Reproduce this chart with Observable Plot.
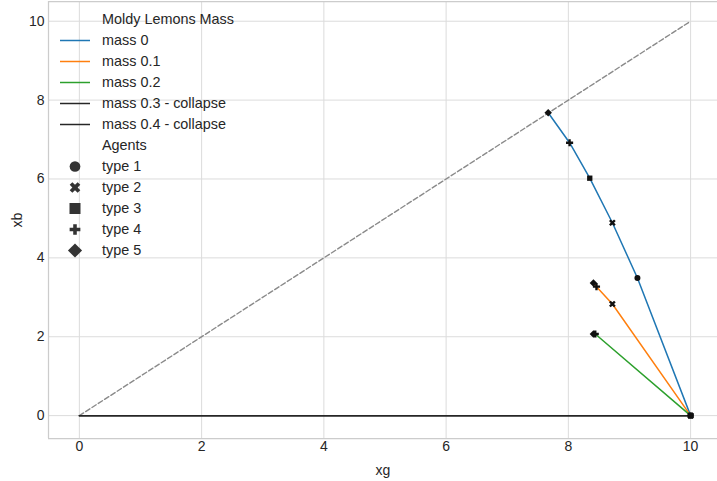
<!DOCTYPE html>
<html><head><meta charset="utf-8">
<script src="https://cdn.jsdelivr.net/npm/d3@7"></script>
<script src="https://cdn.jsdelivr.net/npm/@observablehq/plot@0.6"></script>
<style>
body{margin:0;background:#fff;}
#wrap{position:relative;width:717px;height:481px;font-family:"Liberation Sans",Arial,sans-serif;color:#262626;overflow:hidden;}
#legend{position:absolute;left:0;top:0;font-size:14.4px;}
.row{position:absolute;left:0;width:300px;height:21px;line-height:21px;white-space:nowrap;}
.row span{position:absolute;left:102px;top:0;}
.row svg{position:absolute;left:55px;top:0;}
</style></head><body><div id="wrap"><div id="chart"></div><div id="legend"></div></div>
<script>
// ---- data ----
const agentTypes = ["type 1", "type 2", "type 3", "type 4", "type 5"];
const massLabels = ["mass 0", "mass 0.1", "mass 0.2", "mass 0.3 - collapse", "mass 0.4 - collapse"];
const massColors = ["#1f77b4", "#ff7f0e", "#2ca02c", "#262626", "#262626"];
const mass0_xg = [9.13, 8.72, 8.35, 8.02, 7.67];
const mass0_xb = [3.49, 4.89, 6.02, 6.92, 7.68];
const mass01_xg = [10, 8.72, 10, 8.46, 8.41];
const mass01_xb = [0, 2.83, 0, 3.27, 3.36];
const mass02_xg = [10, 10, 10, 8.44, 8.41];
const mass02_xb = [0, 0, 0, 2.07, 2.07];
const endPoint_xg = 10;
const endPoint_xb = 0;
const collapse_xg = [0, 10];
const collapse_xb = [0, 0];
const diag_xg = [0, 10];
const diag_xb = [0, 10];
const ticks = [0, 2, 4, 6, 8, 10];
const xLimits = [-0.505, 10.44];
const yLimits = [-0.58, 10.5];
const legendTitle1 = "Moldy Lemons Mass";
const legendTitle2 = "Agents";

// ---- symbols ----
const xSym = {draw(ctx, size) {
  const r = Math.sqrt(size / 5) / 2, c = Math.SQRT1_2;
  const pts = [[-3*r,-r],[-r,-r],[-r,-3*r],[r,-3*r],[r,-r],[3*r,-r],[3*r,r],[r,r],[r,3*r],[-r,3*r],[-r,r],[-3*r,r]];
  pts.forEach(([x, y], i) => { const X = (x - y) * c, Y = (x + y) * c; i ? ctx.lineTo(X, Y) : ctx.moveTo(X, Y); });
  ctx.closePath();
}};
const diamondSym = {draw(ctx, size) {
  const h = Math.sqrt(size / 2);
  ctx.moveTo(0, -h); ctx.lineTo(h, 0); ctx.lineTo(0, h); ctx.lineTo(-h, 0); ctx.closePath();
}};
const typeSymbols = [d3.symbolCircle, xSym, d3.symbolSquare, d3.symbolCross, diamondSym];

// ---- build tables ----
const seriesXg = [mass0_xg, mass01_xg, mass02_xg];
const seriesXb = [mass0_xb, mass01_xb, mass02_xb];
const points = [];
seriesXg.forEach((xs, s) => xs.forEach((x, i) => points.push({mass: massLabels[s], type: agentTypes[i], xg: x, xb: seriesXb[s][i]})));
const lineData = seriesXg.map((xs, s) => {
  const arr = xs.map((x, i) => ({xg: x, xb: seriesXb[s][i]}));
  arr.push({xg: endPoint_xg, xb: endPoint_xb});
  return arr.sort((a, b) => a.xg - b.xg);
});
const collapseData = collapse_xg.map((x, i) => ({xg: x, xb: collapse_xb[i]}));
const diagData = diag_xg.map((x, i) => ({xg: x, xb: diag_xb[i]}));

const drawOrder = [0, 2, 3, 4, 1];
const chart = Plot.plot({
  width: 717, height: 481,
  marginLeft: 48, marginRight: 0, marginTop: 1, marginBottom: 43,
  style: {fontFamily: "Liberation Sans, Arial, sans-serif", fontSize: "14px", color: "#262626", background: "white"},
  x: {domain: xLimits},
  y: {domain: yLimits},
  marks: [
    Plot.gridX(ticks, {stroke: "#dcdcdc", strokeOpacity: 1}),
    Plot.gridY(ticks, {stroke: "#dcdcdc", strokeOpacity: 1}),
    Plot.ruleX([xLimits[0]], {stroke: "#cccccc", strokeWidth: 1.25}),
    Plot.ruleY(yLimits, {stroke: "#cccccc", strokeWidth: 1.25}),
    Plot.axisX(ticks, {tickSize: 0, tickPadding: 3, label: "xg", labelAnchor: "center", labelArrow: "none", labelOffset: 36}),
    Plot.axisY(ticks, {tickSize: 0, tickPadding: 4, label: "xb", labelAnchor: "center", labelArrow: "none", labelOffset: 36}),
    Plot.line(diagData, {x: "xg", y: "xb", stroke: "#8a8a8a", strokeWidth: 1.4, strokeDasharray: "5,2.5"}),
    ...lineData.map((d, s) => Plot.line(d, {x: "xg", y: "xb", stroke: massColors[s], strokeWidth: 1.5})),
    Plot.line(collapseData, {x: "xg", y: "xb", stroke: massColors[3], strokeWidth: 1.5}),
    Plot.line(collapseData, {x: "xg", y: "xb", stroke: massColors[4], strokeWidth: 1.5}),
    ...drawOrder.map(t => Plot.dot(points.filter(p => p.type === agentTypes[t]), {x: "xg", y: "xb", symbol: typeSymbols[t], r: 3, fill: "#111", stroke: "none"}))
  ]
});
document.getElementById("chart").appendChild(chart);

// ---- legend ----
const legend = d3.select("#legend");
const rowY = i => 19.8 + i * 20.95;
const rows = [
  {label: legendTitle1},
  ...massLabels.map((m, i) => ({label: m, color: massColors[i]})),
  {label: legendTitle2},
  ...agentTypes.map((t, i) => ({label: t, sym: typeSymbols[i]}))
];
const legendSizes = [90, 70, 121, 64, 100];
rows.forEach((r, i) => {
  const row = legend.append("div").attr("class", "row").style("top", (rowY(i) - 10.5) + "px");
  const svg = row.append("svg").attr("width", 40).attr("height", 21);
  if (r.color) svg.append("line").attr("x1", 5).attr("x2", 35).attr("y1", 10.5).attr("y2", 10.5).attr("stroke", r.color).attr("stroke-width", 1.5);
  if (r.sym) {
    const k = agentTypes.indexOf(r.label);
    svg.append("path").attr("transform", "translate(20,10.5)").attr("d", d3.symbol(r.sym, legendSizes[k])()).attr("fill", "#333");
  }
  row.append("span").text(r.label);
});
</script></body></html>
